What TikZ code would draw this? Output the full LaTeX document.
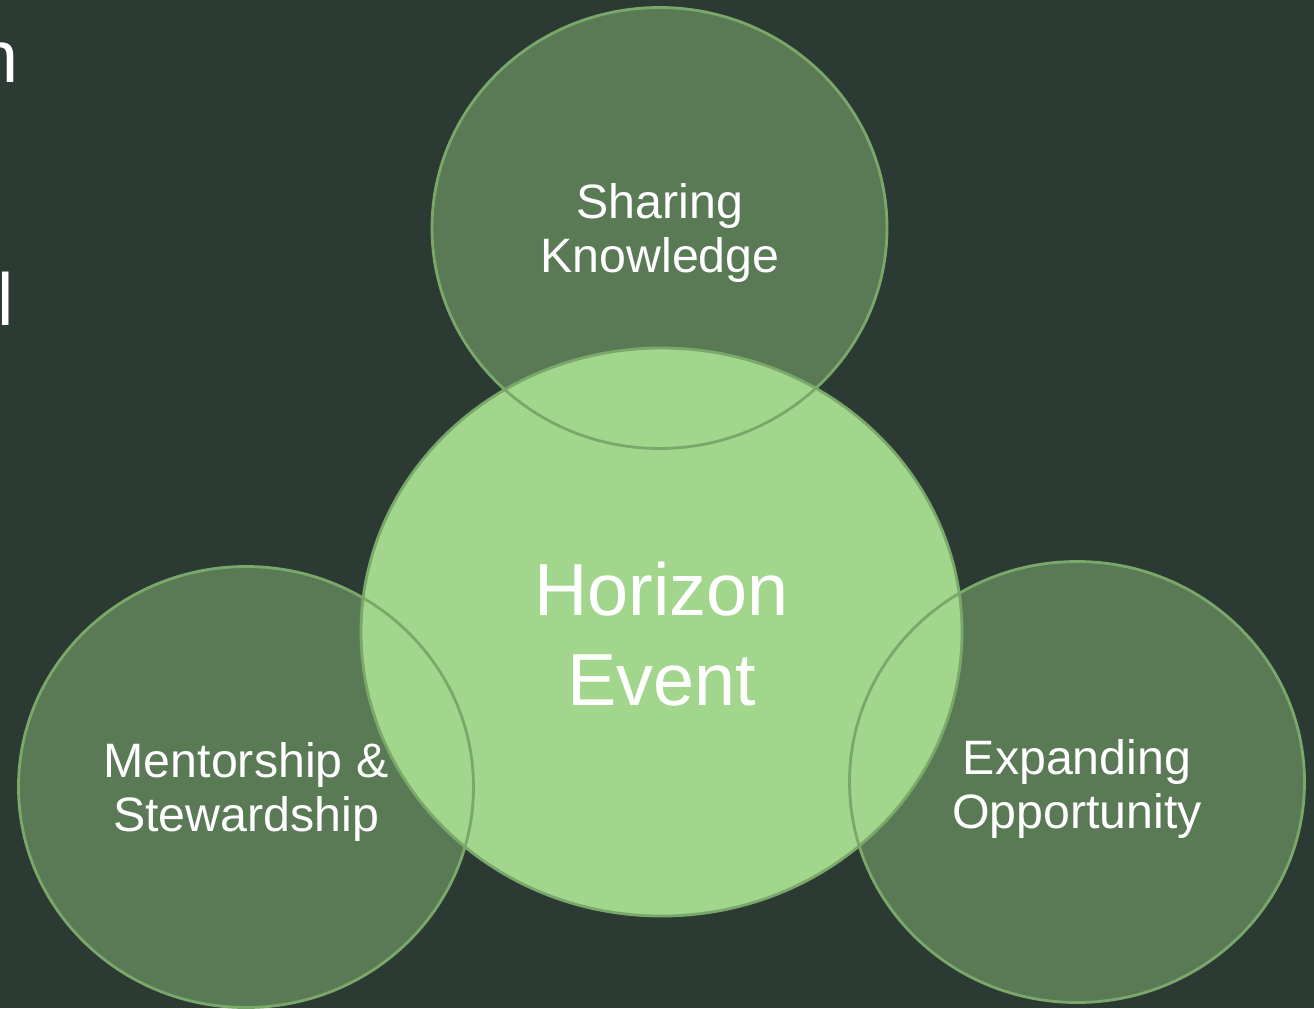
\documentclass[tikz,border=0pt]{standalone}
\usepackage{fontspec}
\setmainfont{Liberation Sans}

\newcommand{\varW}{1314}
\newcommand{\varH}{1008}
\newcommand{\varrx}{227.5}
\newcommand{\varry}{220.5}
\newcommand{\varRx}{300.5}
\newcommand{\varRy}{284}
\definecolor{mybg}{RGB}{43,58,51}
\definecolor{mydark}{RGB}{90,122,86}
\definecolor{mylight}{RGB}{162,214,140}
\definecolor{myline}{RGB}{122,168,106}

\begin{document}
\begin{tikzpicture}[x=0.02cm, y=-0.02cm,
	caption/.style={text=white, align=center, inner sep=0pt, font=\fontsize{27.5}{30.8}\selectfont},
	bigcaption/.style={caption, font=\fontsize{42}{51}\selectfont}]

	% background
	\fill [mybg] (0,0) rectangle (\varW,\varH);
	\useasboundingbox (0,0) rectangle (\varW,\varH);

	% fillers
	\fill [mydark] (659.5,228) ellipse [x radius=\varrx, y radius=\varry];
	\fill [mydark] (246,787) ellipse [x radius=\varrx, y radius=\varry];
	\fill [mydark] (1077,782) ellipse [x radius=\varrx, y radius=\varry];
	\fill [mylight] (661.5,632) ellipse [x radius=\varRx, y radius=\varRy];

	% lines
	\begin{scope}[myline, line width=1.6pt]
		\draw (659.5,228) ellipse [x radius=\varrx, y radius=\varry];
		\draw (246,787) ellipse [x radius=\varrx, y radius=\varry];
		\draw (1077,782) ellipse [x radius=\varrx, y radius=\varry];
		\draw (661.5,632) ellipse [x radius=\varRx, y radius=\varRy];
	\end{scope}

	% captions
	\node [caption] (share) at (660,233) {Sharing\\Knowledge};
	\node [bigcaption] (horizon) at (661.5,634) {Horizon\\Event};
	\node [caption] (mentor) at (246,792) {Mentorship \&\\Stewardship};
	\node [caption] (expand) at (1077,789) {Expanding\\Opportunity};

	% cut-off text at the left edge
	\node [bigcaption, anchor=base east] (cutn) at (19,82) {n};
	\node [bigcaption, anchor=base east] (cutl) at (14,325) {l};
\end{tikzpicture}
\end{document}
